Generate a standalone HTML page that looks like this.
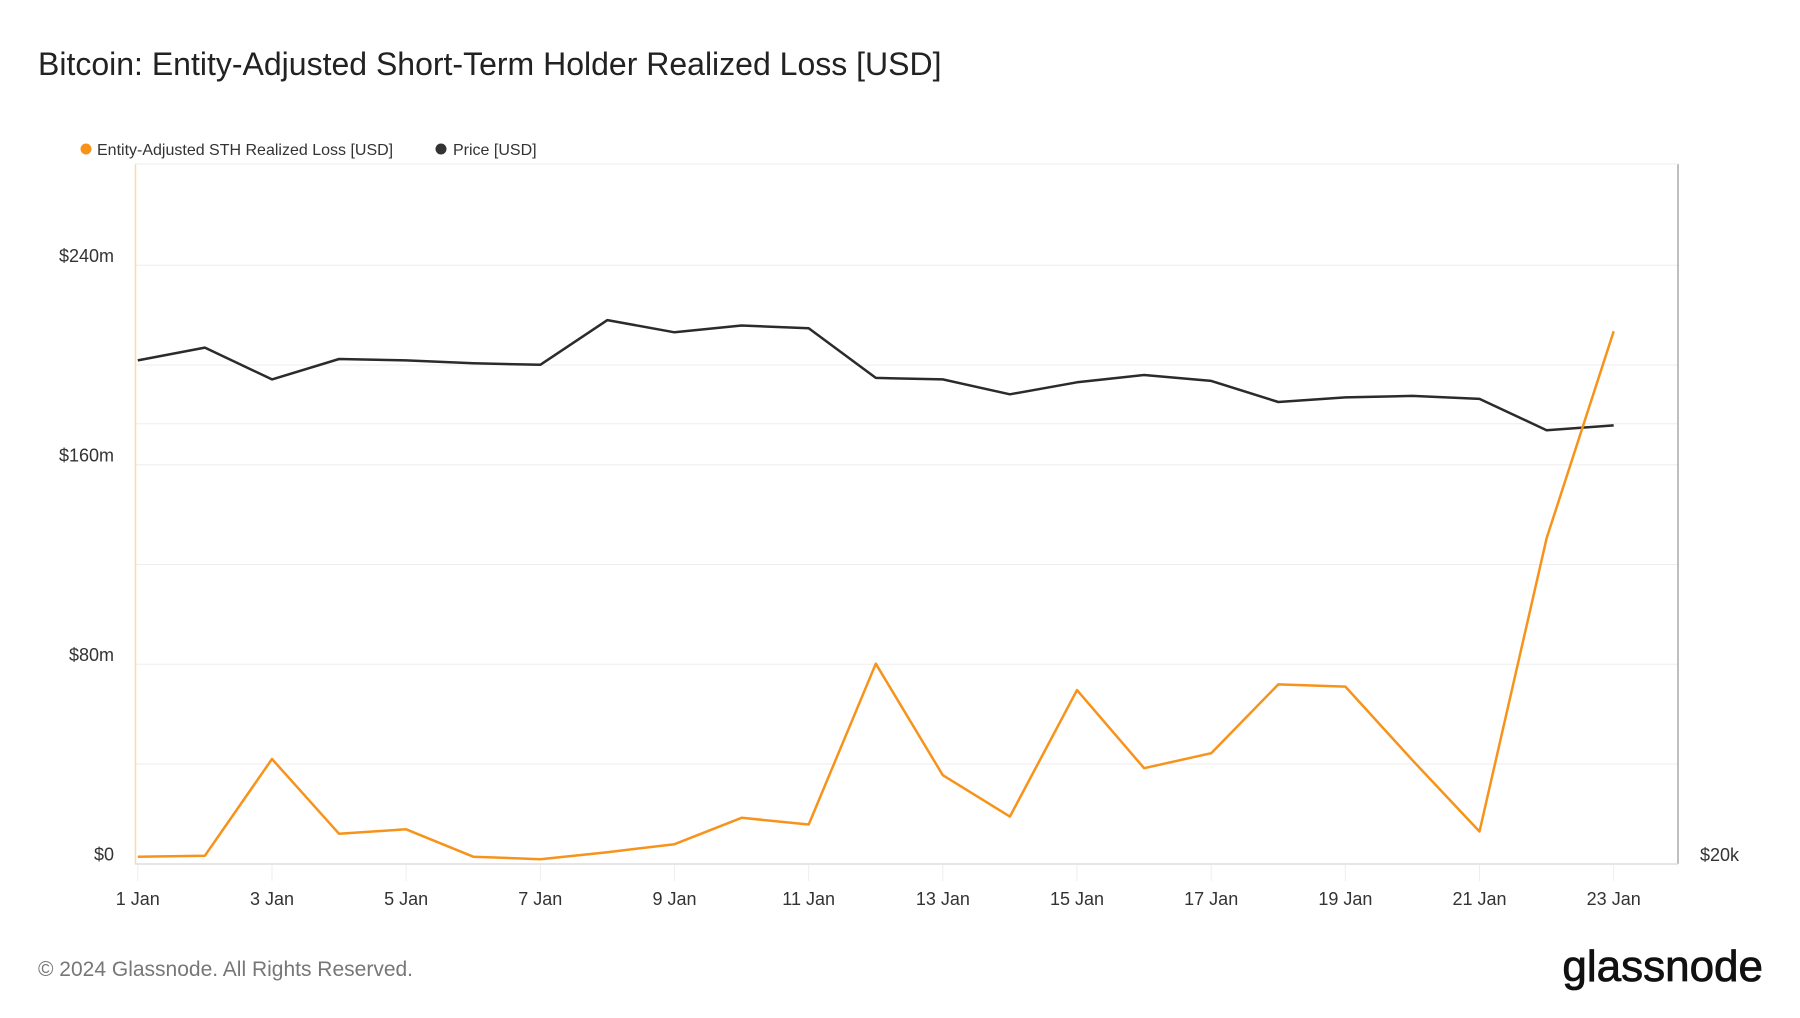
<!DOCTYPE html>
<html><head><meta charset="utf-8"><style>
body{margin:0;width:1800px;height:1013px;background:#fff;font-family:"Liberation Sans",sans-serif;overflow:hidden}
</style></head><body>
<svg id="chart" width="1800" height="1013" xmlns="http://www.w3.org/2000/svg">
<text x="38" y="75" font-size="32" fill="#222">Bitcoin: Entity-Adjusted Short-Term Holder Realized Loss [USD]</text>
<g>
<g><circle cx="86" cy="149" r="5.5" fill="#f7931a"/><text x="97" y="155" font-size="16" fill="#333">Entity-Adjusted STH Realized Loss [USD]</text></g>
<g><circle cx="441" cy="149" r="5.5" fill="#333"/><text x="453" y="155" font-size="16" fill="#333">Price [USD]</text></g>
</g>
<g id="grid"></g>
<g id="xaxis"></g>
<g id="yaxis"></g>
<line x1="135.5" y1="164" x2="135.5" y2="864" stroke="#fcd9a8" stroke-width="1.5"/>
<line x1="1678" y1="164" x2="1678" y2="864" stroke="#aaa" stroke-width="1.5"/>
<line x1="135" y1="164" x2="1678" y2="164" stroke="#eee"/>
<line x1="135" y1="864" x2="1678" y2="864" stroke="#ddd" stroke-width="1.5"/>
<text x="1700" y="861" font-size="18" fill="#333">$20k</text>
<path id="priceLine" fill="none" stroke="#2b2b2b" stroke-width="2.5" stroke-linejoin="round"/>
<path id="lossLine" fill="none" stroke="#f7931a" stroke-width="2.5" stroke-linejoin="round"/>
<text x="38" y="976" font-size="21" fill="#777">© 2024 Glassnode. All Rights Reserved.</text>
<text x="1763" y="981" font-size="44" fill="#111" text-anchor="end" stroke="#111" stroke-width="0.8">glassnode</text>
</svg>
<script>
const days = [1,2,3,4,5,6,7,8,9,10,11,12,13,14,15,16,17,18,19,20,21,22,23];
const lossM = [2.8,3.2,42,12,13.8,2.8,1.8,4.6,7.8,18.4,15.7,80.2,35.5,18.9,69.6,38.3,44.3,71.9,71,41.5,12.9,130.5,213.5];
const priceK = [44.2,45.1,42.9,44.3,44.2,44.0,43.9,47.1,46.2,46.7,46.5,43.0,42.9,41.9,42.7,43.2,42.8,41.4,41.7,41.8,41.6,39.6,39.9];
const leftTicks = [0,80,160,240];
const leftTickLabels = ["$0","$80m","$160m","$240m"];
const xTickDays = [1,3,5,7,9,11,13,15,17,19,21,23];

const svgNS="http://www.w3.org/2000/svg";
const X0=137.8, DX=(1613.7-137.8)/22, BASE=863.7, PER80=199.5;
const x = d => X0 + (d-1)*DX;
const yL = v => BASE - v/80*PER80;
const yP = p => BASE - 439.9*Math.log2(p/20);
function mk(tag, attrs, parent){const e=document.createElementNS(svgNS,tag);for(const k in attrs)e.setAttribute(k,attrs[k]);parent.appendChild(e);return e;}
const grid=document.getElementById('grid'), xa=document.getElementById('xaxis'), ya=document.getElementById('yaxis');
for(let v=40; v<=240; v+=40){
  const l=mk('line',{x1:135,x2:1678,y1:yL(v),y2:yL(v),stroke:'#eee','stroke-width':1},grid);
  
  
}
const g40=mk('line',{x1:135,x2:1678,y1:yP(40),y2:yP(40),stroke:'#eee','stroke-width':1},grid);


leftTicks.forEach((v,i)=>{
  const t=mk('text',{x:114,y:yL(v)-3,'font-size':18,fill:'#333','text-anchor':'end'},ya);
  t.textContent=leftTickLabels[i];
  
  
});
xTickDays.forEach(d=>{
  const tk=mk('line',{x1:x(d),x2:x(d),y1:865,y2:881,stroke:'#eee','stroke-width':1},xa);
  
  
  const t=mk('text',{x:x(d),y:905,'font-size':18,fill:'#333','text-anchor':'middle'},xa);
  t.textContent=d+' Jan';
  
  
});
document.getElementById('lossLine').setAttribute('d', days.map((d,i)=>(i?'L':'M')+x(d).toFixed(1)+','+yL(lossM[i]).toFixed(1)).join(''));
document.getElementById('priceLine').setAttribute('d', days.map((d,i)=>(i?'L':'M')+x(d).toFixed(1)+','+yP(priceK[i]).toFixed(1)).join(''));
</script>
</body></html>
